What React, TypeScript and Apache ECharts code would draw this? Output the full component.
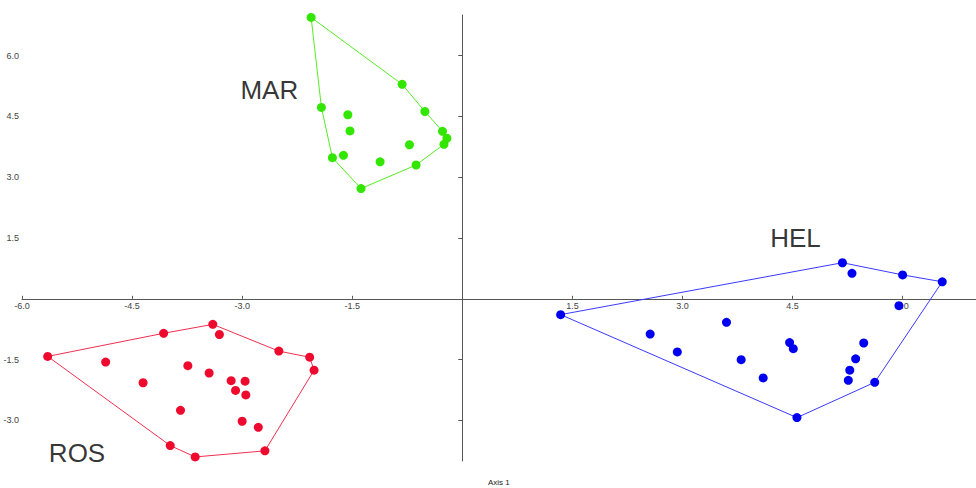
import React, { useEffect, useRef } from "react";
import * as echarts from "echarts";

// ---- Data ----
const rosPoints: [number, number][] = [
  [-5.65, -1.42], [-4.07, -0.85], [-3.40, -0.63], [-3.31, -0.88], [-2.50, -1.29],
  [-2.08, -1.44], [-2.02, -1.76], [-4.86, -1.56], [-3.74, -1.65], [-3.45, -1.83],
  [-4.35, -2.07], [-3.15, -2.02], [-2.96, -2.03], [-3.09, -2.26], [-2.95, -2.37],
  [-3.84, -2.75], [-3.00, -3.02], [-2.78, -3.17], [-3.98, -3.62], [-3.64, -3.90],
  [-2.69, -3.75],
];
const rosHull = [0, 1, 2, 4, 5, 6, 20, 19, 18, 0];

const helPoints: [number, number][] = [
  [5.18, 0.89], [5.31, 0.63], [6.00, 0.59], [6.54, 0.42], [5.95, -0.17],
  [1.34, -0.39], [3.60, -0.58], [2.56, -0.87], [4.46, -1.08], [4.51, -1.23],
  [5.47, -1.09], [2.93, -1.31], [3.80, -1.50], [5.36, -1.48], [5.28, -1.76],
  [4.10, -1.95], [5.26, -2.01], [5.62, -2.06], [4.56, -2.93],
];
const helHull = [5, 0, 2, 3, 17, 18, 5];

const marPoints: [number, number][] = [
  [-2.06, 6.94], [-0.82, 5.29], [-0.51, 4.62], [-1.92, 4.72], [-1.56, 4.54],
  [-1.53, 4.14], [-0.27, 4.13], [-0.21, 3.96], [-0.25, 3.81], [-0.72, 3.80],
  [-1.62, 3.54], [-1.77, 3.48], [-1.12, 3.38], [-0.63, 3.30], [-1.38, 2.72],
];
const marHull = [0, 1, 2, 6, 7, 8, 13, 14, 11, 3, 0];

const groupNames = ["ROS", "HEL", "MAR"];
const groupLabelPos: [number, number][] = [[-5.25, -3.8], [4.54, 1.51], [-2.63, 5.14]];

const xTicks = [-6.0, -4.5, -3.0, -1.5, 1.5, 3.0, 4.5, 6.0];
const yTicks = [-3.0, -1.5, 1.5, 3.0, 4.5, 6.0];
const xAxisTitle = "Axis 1";

const X_MIN = -6, X_MAX = 7, Y_MIN = -4, Y_MAX = 7;
const GRID = { left: 22, right: 0, top: 15, bottom: 27 };
const CHART_H = 488;

const groups = [
  { name: groupNames[0], points: rosPoints, hull: rosHull, color: "#ee0a2e", line: "#f0304f" },
  { name: groupNames[1], points: helPoints, hull: helHull, color: "#0000f0", line: "#3a3aff" },
  { name: groupNames[2], points: marPoints, hull: marHull, color: "#33e600", line: "#55ee22" },
];

export default function App() {
  const ref = useRef<HTMLDivElement>(null);
  useEffect(() => {
    if (!ref.current) return;
    const chart = echarts.init(ref.current, null, { renderer: "svg" });
    const plotH = CHART_H - GRID.top - GRID.bottom;
    // shift the x axis (line, ticks, labels) up to y = 0
    const xOffset = -plotH * (0 - Y_MIN) / (Y_MAX - Y_MIN);
    const font = "Liberation Sans, Arial, sans-serif";
    const series: any[] = [];
    groups.forEach((g, i) => {
      series.push({
        type: "line",
        data: g.hull.map((k) => g.points[k]),
        symbol: "none",
        lineStyle: { color: g.line, width: 1 },
        z: 2,
        silent: true,
      });
      series.push({
        type: "scatter",
        data: g.points,
        symbolSize: 9,
        itemStyle: { color: g.color, opacity: 1 },
        z: 3,
      });
      series.push({
        type: "scatter",
        data: [groupLabelPos[i]],
        symbolSize: 0,
        label: {
          show: true,
          position: "inside",
          formatter: g.name,
          fontFamily: font,
          fontSize: 26,
          color: "#000",
        },
        z: 4,
      });
    });
    chart.setOption({
      animation: false,
      grid: { ...GRID, containLabel: false },
      xAxis: {
        type: "value",
        min: X_MIN,
        max: X_MAX,
        offset: xOffset,
        splitLine: { show: false },
        axisLine: { onZero: false, lineStyle: { color: "#555", width: 1 } },
        axisTick: { show: true, customValues: xTicks, length: 3, inside: true, lineStyle: { color: "#555" } },
        axisLabel: {
          customValues: xTicks,
          formatter: (v: number) => v.toFixed(1),
          fontSize: 9,
          color: "#444",
          margin: 3,
          fontFamily: font,
        },
      },
      yAxis: {
        type: "value",
        min: Y_MIN,
        max: Y_MAX,
        splitLine: { show: false },
        axisLine: { onZero: true, lineStyle: { color: "#555", width: 1 } },
        axisTick: { show: true, customValues: yTicks, length: 4, lineStyle: { color: "#555" } },
        axisLabel: {
          customValues: yTicks,
          formatter: (v: number) => v.toFixed(1),
          fontSize: 9,
          color: "#444",
          margin: 3,
          fontFamily: font,
        },
      },
      graphic: [
        {
          type: "text",
          left: 488,
          top: 478,
          style: {
            text: xAxisTitle,
            fontSize: 8,
            fill: "#222",
            fontFamily: font,
          },
        },
      ],
      series,
    });
    return () => chart.dispose();
  }, []);
  return (
    <div
      ref={ref}
      style={{ position: "fixed", left: 0, top: 0, width: 976, height: 488, background: "#fff" }}
    />
  );
}
